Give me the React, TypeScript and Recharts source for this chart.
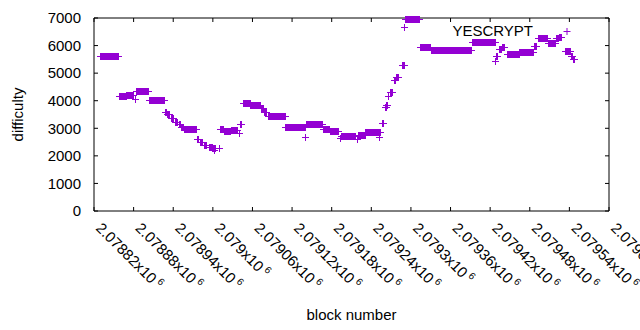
import { Legend, Scatter, ScatterChart, XAxis, YAxis } from "recharts";

const purple = "#9400d3";
const font = "'Liberation Sans', Arial, sans-serif";

// x ticks every 60 blocks, labels in gnuplot's "x10^6" style
const xTicks = [
  2078820, 2078880, 2078940, 2079000, 2079060, 2079120, 2079180, 2079240,
  2079300, 2079360, 2079420, 2079480, 2079540, 2079600,
];
const xTickLabels = [
  "2.07882", "2.07888", "2.07894", "2.079", "2.07906", "2.07912", "2.07918",
  "2.07924", "2.0793", "2.07936", "2.07942", "2.07948", "2.07954", "2.0796",
];
const yTicks = [0, 1000, 2000, 3000, 4000, 5000, 6000, 7000];

// difficulty held constant over runs of blocks
const runStart = [
  2078829, 2078858, 2078869, 2078882, 2078884, 2078903, 2078927, 2078931,
  2078936, 2078942, 2078948, 2078952, 2078956, 2078976, 2078981, 2078986,
  2078994, 2078999, 2079002, 2079009, 2079011, 2079017, 2079027, 2079039,
  2079041, 2079045, 2079057, 2079073, 2079077, 2079083, 2079110, 2079140,
  2079141, 2079167, 2079177, 2079193, 2079194, 2079218, 2079220, 2079231,
  2079252, 2079256, 2079261, 2079263, 2079265, 2079268, 2079275, 2079278,
  2079286, 2079290, 2079291, 2079313, 2079330, 2079392, 2079428, 2079429,
  2079434, 2079438, 2079446, 2079464, 2079487, 2079493, 2079507, 2079520,
  2079524, 2079534, 2079542, 2079545,
];
const runEnd = [
  2078856, 2078868, 2078879, 2078882, 2078902, 2078926, 2078929, 2078934,
  2078940, 2078946, 2078951, 2078955, 2078975, 2078977, 2078984, 2078990,
  2078998, 2079003, 2079002, 2079009, 2079016, 2079026, 2079037, 2079039,
  2079043, 2079056, 2079072, 2079076, 2079081, 2079109, 2079140, 2079140,
  2079166, 2079176, 2079190, 2079193, 2079215, 2079218, 2079230, 2079253,
  2079252, 2079258, 2079262, 2079264, 2079266, 2079271, 2079276, 2079281,
  2079289, 2079290, 2079312, 2079329, 2079391, 2079427, 2079428, 2079430,
  2079436, 2079441, 2079463, 2079485, 2079489, 2079506, 2079518, 2079522,
  2079527, 2079541, 2079544, 2079547,
];
const runValue = [
  5610, 4160, 4225, 4050, 4340, 4015, 3580, 3507,
  3362, 3240, 3145, 3050, 2963, 2622, 2492, 2405,
  2320, 2274, 2212, 2274, 2960, 2910, 2950, 2818,
  3145, 3930, 3855, 3720, 3600, 3435, 3035, 2695,
  3145, 2963, 2890, 2637, 2715, 2611, 2768, 2854,
  2695, 3180, 3783, 3855, 4182, 4305, 4751, 4850,
  5295, 6685, 6960, 5960, 5850, 6118, 5450, 5633,
  5875, 5960, 5683, 5756, 5996, 6275, 6082, 6275,
  6322, 5792, 5633, 5513,
];

const points = runStart.flatMap((s, i) =>
  Array.from({ length: runEnd[i] - s + 1 }, (_, k) => ({
    block: s + k,
    difficulty: runValue[i],
  }))
);

const Plus = (props: any) => {
  const { cx, cy } = props;
  const x = Math.round(cx) + 0.5;
  const y = Math.round(cy) + 0.5;
  return (
    <path
      d={`M${x - 3.5} ${y}h7M${x} ${y - 3.5}v7`}
      stroke={purple}
      strokeWidth={1}
      fill="none"
    />
  );
};

const Nothing = () => <g />;

const BlockTick = (props: any) => {
  const { x, y, payload } = props;
  const i = xTicks.indexOf(payload.value);
  const bx = x + 1;
  const by = y + 18;
  return (
    <text
      x={bx}
      y={by}
      transform={`rotate(45 ${bx} ${by})`}
      fontSize={15}
      fontFamily={font}
      fill="#000"
    >
      {xTickLabels[i]}x10
      <tspan dx={3} dy={-6} fontSize={10}>
        6
      </tspan>
    </text>
  );
};

const YTitle = (props: any) => {
  const { viewBox } = props;
  const cx = viewBox.x + 17;
  const cy = viewBox.y + viewBox.height / 2;
  return (
    <text
      x={cx}
      y={cy}
      transform={`rotate(-90 ${cx} ${cy})`}
      textAnchor="middle"
      dominantBaseline="central"
      fontSize={15}
      fontFamily={font}
      fill="#000"
    >
      difficulty
    </text>
  );
};

const KeyContent = () => (
  <div
    style={{
      display: "flex",
      alignItems: "center",
      justifyContent: "flex-end",
      fontFamily: font,
      fontSize: 15,
      color: "#000",
      lineHeight: "18px",
    }}
  >
    <span>YESCRYPT</span>
    <svg width={44} height={18} style={{ marginLeft: 12 }}>
      <path d="M18.5 9.5h7M22 6v7" stroke={purple} strokeWidth={1} fill="none" />
    </svg>
  </div>
);

export default function App() {
  const axisStyle = { stroke: "#000" };
  const tickText = { fill: "#000", fontSize: 15, fontFamily: font };
  return (
    <div style={{ position: "absolute", left: 0, top: 0, background: "#fff" }}>
      <ScatterChart
        width={640}
        height={330}
        margin={{ top: 17, right: 30, bottom: 0, left: 0 }}
      >
        <XAxis
          dataKey="block"
          type="number"
          domain={[2078820, 2079600]}
          ticks={xTicks}
          interval={0}
          height={119}
          tickSize={-4}
          tickMargin={4}
          axisLine={axisStyle}
          tickLine={axisStyle}
          tick={<BlockTick />}
          label={{
            value: "block number",
            position: "insideBottom",
            offset: 10,
            fill: "#000",
            fontSize: 15,
            fontFamily: font,
          }}
        />
        <XAxis
          xAxisId="top"
          dataKey="block"
          orientation="top"
          type="number"
          domain={[2078820, 2079600]}
          allowDataOverflow
          ticks={xTicks}
          interval={0}
          height={1}
          tickSize={-4}
          axisLine={axisStyle}
          tickLine={axisStyle}
          tickFormatter={() => ""}
        />
        <YAxis
          dataKey="difficulty"
          type="number"
          domain={[0, 7000]}
          ticks={yTicks}
          interval={0}
          width={94}
          tickSize={-4}
          tickMargin={17}
          axisLine={axisStyle}
          tickLine={axisStyle}
          tick={tickText}
          label={(p: any) => <YTitle {...p} />}
        />
        <YAxis
          yAxisId="right"
          dataKey="difficulty"
          orientation="right"
          type="number"
          domain={[0, 7000]}
          allowDataOverflow
          ticks={yTicks}
          interval={0}
          width={1}
          tickSize={-4}
          axisLine={axisStyle}
          tickLine={axisStyle}
          tickFormatter={() => ""}
        />
        <Legend
          verticalAlign="middle"
          align="center"
          content={<KeyContent />}
          wrapperStyle={{ top: 22, left: 400, width: 189, height: 18 }}
        />
        {/* invisible twin so the mirrored frame axes get drawn */}
        <Scatter
          data={points.slice(0, 2)}
          xAxisId="top"
          yAxisId="right"
          dataKey="difficulty"
          shape={<Nothing />}
          legendType="none"
          isAnimationActive={false}
        />
        <Scatter
          data={points}
          dataKey="difficulty"
          shape={<Plus />}
          fill={purple}
          isAnimationActive={false}
        />
      </ScatterChart>
    </div>
  );
}
